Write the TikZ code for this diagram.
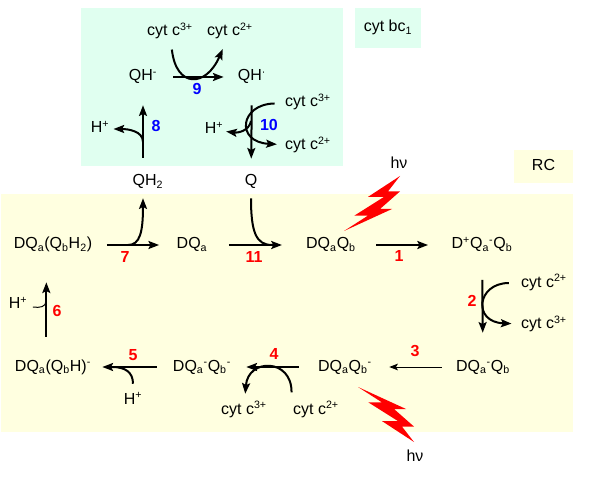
\documentclass[tikz,border=0pt]{standalone}
\usepackage{fontspec}
\setmainfont{Liberation Sans}
\usepackage{tikz}
\usetikzlibrary{shapes,arrows,arrows.meta}
\definecolor{bcgreen}{RGB}{224,255,240}
\definecolor{rcyellow}{RGB}{255,255,224}

\begin{document}
\begin{tikzpicture}[x=0.75pt,y=-0.75pt,>={Stealth[length=8pt,width=6pt,inset=1.5pt]},
    font=\fontsize{12}{14}\selectfont,
    every node/.style={inner sep=1pt,text height=9pt,text depth=3pt},
    rnum/.style={font=\fontsize{12}{14}\selectfont\bfseries,text=red},
    bnum/.style={font=\fontsize{12}{14}\selectfont\bfseries,text=blue},
    rxn/.style={->,line width=1.5pt},
    side/.style={line width=1.5pt}]

    \useasboundingbox (0,0) rectangle (604,481);

    % panels
    \fill[bcgreen] (81,8) rectangle (343,166);
    \fill[rcyellow] (1,194) rectangle (573,432);
    \node[fill=bcgreen,minimum width=49.5pt,minimum height=30pt] (bc) at (388,28) {cyt bc\textsubscript{1}};
    \node[fill=rcyellow,minimum width=44.25pt,minimum height=24.75pt] (rc) at (543.5,166.5) {RC};

    % cyt bc1 cycle
    \node (q1) at (143,77) {QH\textsuperscript{-}};
    \node (q2) at (252,77) {QH\textsuperscript{·}};
    \node (c1) at (170,32) {cyt c\textsuperscript{3+}};
    \node (c2) at (230,32) {cyt c\textsuperscript{2+}};
    \node (h1) at (100,129) {H\textsuperscript{+}};
    \node (h2) at (214,130) {H\textsuperscript{+}};
    \node (c3) at (308,103) {cyt c\textsuperscript{3+}};
    \node (c4) at (308,146) {cyt c\textsuperscript{2+}};
    \node (qh) at (148,182) {QH\textsubscript{2}};
    \node (q) at (251,182) {Q};

    % upper row
    \node (d7) at (53,245) {DQ\textsubscript{a}(Q\textsubscript{b}H\textsubscript{2})};
    \node (d0) at (192,245) {DQ\textsubscript{a}};
    \node (d1) at (331,245) {DQ\textsubscript{a}Q\textsubscript{b}};
    \node (d2) at (482,245) {D\textsuperscript{+}Q\textsubscript{a}\textsuperscript{-}Q\textsubscript{b}};
    \node (c5) at (544,283) {cyt c\textsuperscript{2+}};
    \node (c6) at (544,325) {cyt c\textsuperscript{3+}};
    \node (h4) at (18,305) {H\textsuperscript{+}};

    % lower row
    \node (d3) at (483,367) {DQ\textsubscript{a}\textsuperscript{-}Q\textsubscript{b}};
    \node (d4) at (345,367) {DQ\textsubscript{a}Q\textsubscript{b}\textsuperscript{-}};
    \node (d5) at (202,367) {DQ\textsubscript{a}\textsuperscript{-}Q\textsubscript{b}\textsuperscript{-}};
    \node (d6) at (53,367) {DQ\textsubscript{a}(Q\textsubscript{b}H)\textsuperscript{-}};
    \node (c7) at (244,410) {cyt c\textsuperscript{3+}};
    \node (c8) at (316,410) {cyt c\textsuperscript{2+}};
    \node (h3) at (133,400) {H\textsuperscript{+}};

    % light
    \node (hv1) at (399,165) {hν};
    \node (hv2) at (415,457) {hν};

    % step numbers
    \node[rnum] (r1) at (399,258) {1};
    \node[rnum] (r2) at (472,303) {2};
    \node[rnum] (r3) at (415,353) {3};
    \node[rnum] (r4) at (274,355) {4};
    \node[rnum] (r5) at (133,356) {5};
    \node[rnum] (r6) at (57,312) {6};
    \node[rnum] (r7) at (125,259) {7};
    \node[bnum] (r8) at (156,128) {8};
    \node[bnum] (r9) at (197,91) {9};
    \node[bnum] (r10) at (269,127) {10};
    \node[rnum] (r11) at (254,259) {11};

    % junctions
    \coordinate (j5) at (112,367);
    \coordinate (j6) at (46,301);
    \coordinate (j7) at (128,245);
    \coordinate (j8) at (143,142);
    \coordinate (j10) at (251,121);
    \coordinate (j11) at (272,245);

    % main steps
    \draw [rxn,shorten <=14pt,shorten >=16.5pt] (d1) -- (d2);
    \draw [rxn,shorten <=19pt,shorten >=18.5pt] (d2) -- (d3);
    \draw [-{Stealth[length=6.5pt,width=5pt,inset=1.5pt]},line width=0.75pt,shorten <=9.5pt,shorten >=11.8pt] (d3) -- (d4);
    \draw [rxn,shorten <=13.3pt,shorten >=10.3pt] (d4) -- (d5);
    \draw [rxn,shorten <=11pt,shorten >=7.3pt] (d5) -- (d6);
    \draw [rxn,shorten <=15.5pt,shorten >=20.8pt] ([xshift=-5pt]d6.north) -- ([xshift=-5pt]d7.south);
    \draw [rxn,shorten <=9.75pt,shorten >=12pt] (d7) -- (d0);
    \draw [rxn,shorten <=11pt,shorten >=14pt] (q1.south |- qh.north) -- (q1.south);
    \draw [rxn,shorten <=11pt,shorten >=9.5pt] (q1) -- (q2);
    \draw [rxn,shorten <=14pt,shorten >=10.3pt] (q2) -- (q);
    \draw [rxn,shorten <=15pt,shorten >=17pt] (d0) -- (d1);

    % side branches
    \draw [rxn,shorten <=8pt,shorten >=6pt] (c5) .. controls (477,283) and (472,322) .. (c6);
    \draw [rxn,shorten >=5pt] ([yshift=6pt]c8.north west) .. controls (292,358) and (248,358) .. (c7);
    \draw [side,shorten <=5pt] (h3) .. controls (133,372) and (125,367) .. (j5);
    \draw [line width=0.75pt,shorten <=3pt] (h4) .. controls (40,308) and (46,307) .. (j6);
    \draw [rxn,shorten >=5pt] (j7) .. controls (140,245) and (143,232) .. (q1.south |- qh.south);
    \draw [rxn,shorten >=2pt] (j8) .. controls (143,131) and (128,129) .. (h1);
    \draw [rxn,shorten <=6pt,shorten >=6pt] (c1) .. controls (176,88) and (206,88) .. (c2);
    \draw [rxn,shorten <=6.75pt,shorten >=5pt] (c3) .. controls (240,104) and (235,142) .. (c4);
    \draw [rxn,shorten >=1pt] (j10) .. controls (249,131) and (238,133) .. (h2);
    \draw [side,shorten <=5pt] (q) .. controls (251,232) and (256,245) .. (j11);

    % flashes
    \begin{scope}[shift={(340,176)},x=60pt,y=-41.25pt]
      \fill[red] (0.75,0) -- (0.35,0.38) -- (0.55,0.38) -- (0.18,0.72) -- (0.35,0.72) -- (0.05,1)
        -- (0.65,0.6) -- (0.5,0.6) -- (0.75,0.28) -- (0.6,0.28) -- cycle;
    \end{scope}
    \begin{scope}[shift={(354,442)},x=60pt,y=41.25pt]
      \fill[red] (0.75,0) -- (0.35,0.38) -- (0.55,0.38) -- (0.18,0.72) -- (0.35,0.72) -- (0.05,1)
        -- (0.65,0.6) -- (0.5,0.6) -- (0.75,0.28) -- (0.6,0.28) -- cycle;
    \end{scope}

\end{tikzpicture}
\end{document}
